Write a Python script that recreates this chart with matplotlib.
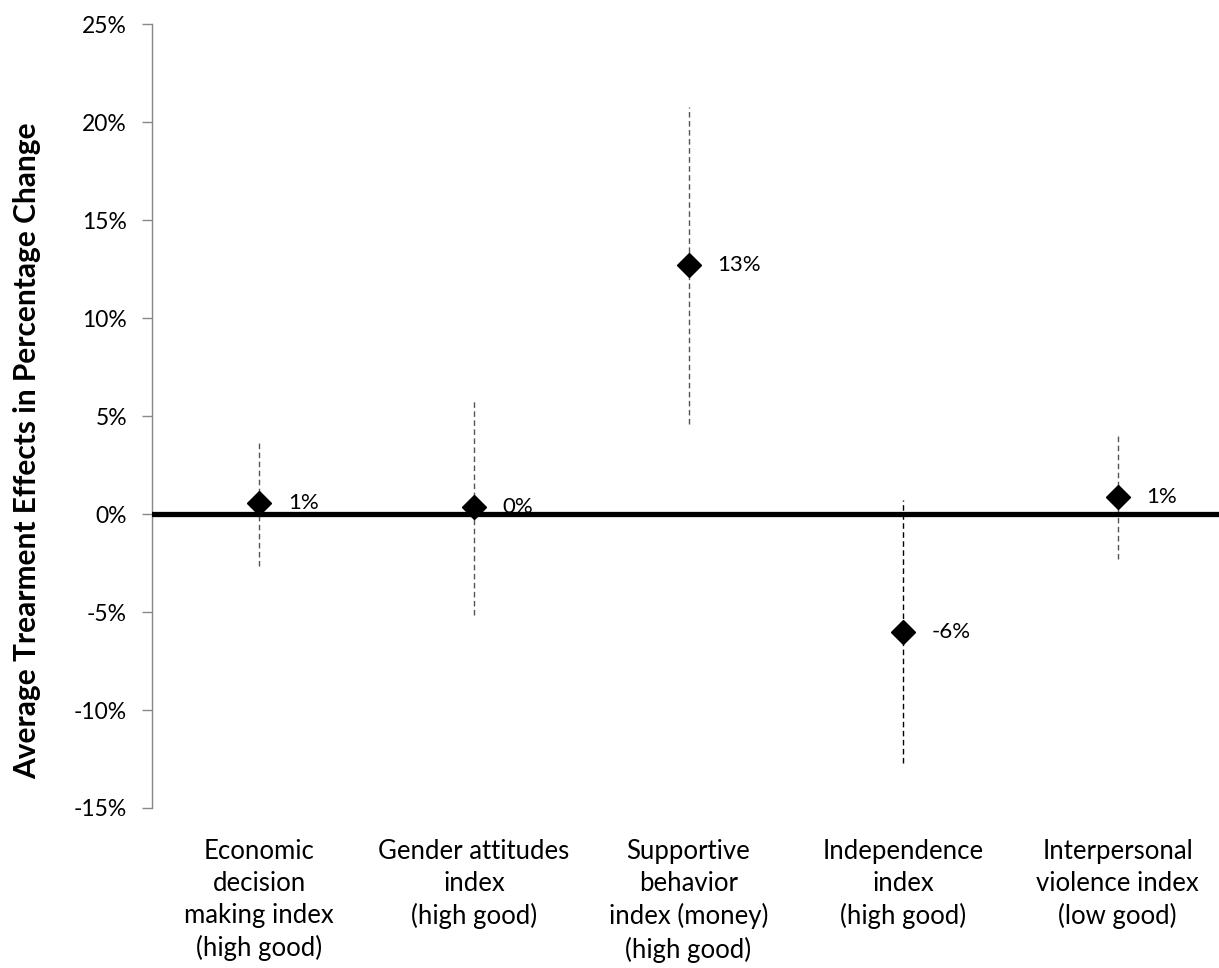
import matplotlib
matplotlib.use("Agg")
import matplotlib.pyplot as plt
from matplotlib.ticker import FuncFormatter, MultipleLocator

categories = [
    "Economic\ndecision\nmaking index\n(high good)",
    "Gender attitudes\nindex\n(high good)",
    "Supportive\nbehavior\nindex (money)\n(high good)",
    "Independence\nindex\n(high good)",
    "Interpersonal\nviolence index\n(low good)",
]
effects = [0.55, 0.37, 12.7, -6.0, 0.88]
upper = [3.7, 5.8, 20.8, 0.7, 4.1]
lower = [-2.65, -5.15, 4.6, -12.7, -2.3]
labels = ["1%", "0%", "13%", "-6%", "1%"]
bar_colors = ["#555555", "#555555", "#555555", "#000000", "#555555"]

plt.rcParams['font.family'] = ['Lato', 'DejaVu Sans']

fig = plt.figure(figsize=(12.19, 9.68), dpi=100)
W, H = 1219, 968
left, right, top, bottom = 152, 1225, 24.3, 808
ax = fig.add_axes([left / W, 1 - bottom / H, (right - left) / W, (bottom - top) / H])

x = list(range(len(categories)))
ax.set_xlim(-0.5, len(categories) - 0.5)
ax.set_ylim(-15, 25)

for xi, lo, hi, c in zip(x, lower, upper, bar_colors):
    ax.plot([xi, xi], [lo, hi], color=c, lw=1.0, ls=(0, (4, 2.5)), zorder=2)

ax.axhline(0, color="#bbbbbb", lw=1, zorder=1)
ax.axhline(0, color="black", lw=3.8, zorder=3)

ax.plot(x, effects, ls="none", marker="D", ms=12, color="black", zorder=4)
for xi, yi, lab in zip(x, effects, labels):
    ax.annotate(lab, (xi, yi), xytext=(20.5, 0), textcoords="offset points",
                va="center", ha="left", fontsize=16, zorder=5)

ax.yaxis.set_major_locator(MultipleLocator(5))
ax.yaxis.set_major_formatter(FuncFormatter(lambda v, p: f"{v:.0f}%"))
ax.set_xticks(x)
ax.set_xticklabels(categories, fontsize=18.5, linespacing=1.35)
ax.tick_params(axis="x", length=0, pad=22)
ax.tick_params(axis="y", length=7, width=1, color="#888888", labelsize=16.5, pad=11)

for s in ["top", "right", "bottom"]:
    ax.spines[s].set_visible(False)
ax.spines["left"].set_color("#888888")
ax.spines["left"].set_linewidth(1)

fig.text(27 / W, 1 - 451 / H, "Average Trearment Effects in Percentage Change",
         rotation=90, ha="center", va="center", fontsize=21.5, fontweight="bold")

fig.savefig("out.png", dpi=100)
